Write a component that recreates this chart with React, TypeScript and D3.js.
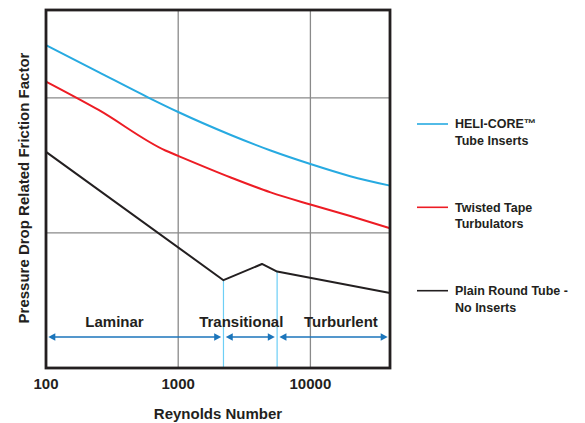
import {useEffect, useRef} from "react";
import * as d3 from "d3";

// Reynolds numbers sampled along each curve
const blueRe = [100, 250, 600, 1000, 2500, 5000, 10000, 20000, 40000];
const blueF = [2.39, 2.19, 2.0, 1.895, 1.725, 1.61, 1.51, 1.42, 1.35];

const redRe = [100, 250, 800, 1000, 2500, 5000, 10000, 20000, 40000];
const redF = [2.12, 1.91, 1.61, 1.57, 1.41, 1.30, 1.21, 1.125, 1.035];

const blackRe = [100, 2200, 4300, 5600, 40000];
const blackF = [1.60, 0.65, 0.77, 0.714, 0.555];

const xTicks = [100, 1000, 10000];
const yGrid = [1, 2];

// flow regimes
const regimeNames = ["Laminar", "Transitional", "Turburlent"];
const regimeFrom = [100, 2200, 5600];
const regimeTo = [2200, 5600, 40000];
const regimeLabelAt = [330, 3000, 17000];
const boundaryRe = [2200, 5600];

const legendNames = [["HELI-CORE™", "Tube Inserts"], ["Twisted Tape", "Turbulators"], ["Plain Round Tube -", "No Inserts"]];
const legendColors = ["#27aae1", "#ed1c24", "#231f20"];

export default function App() {
    const chartRef = useRef<SVGSVGElement>(null);

    useEffect(() => {
        document.body.style.margin = "0";
        if (!chartRef.current) return;

        const width = 585;
        const height = 423;
        const left = 46, right = 390, top = 10, bottom = 368;
        const font = "'Liberation Sans', Arial, sans-serif";
        const ink = "#231f20";

        const svg = d3.select(chartRef.current);
        svg.selectAll("*").remove();
        svg.attr("width", width).attr("height", height).attr("viewBox", [0, 0, width, height]);

        const x = d3.scaleLog().domain([100, 40000]).range([left, right]);
        const y = d3.scaleLinear().domain([0, 2.65]).range([bottom, top]);

        svg.append("rect").attr("width", width).attr("height", height).attr("fill", "white");

        // grid
        const grid = svg.append("g").attr("stroke", "#8a8a8a").attr("stroke-width", 1.3);
        grid.selectAll(".vx")
            .data(xTicks.slice(1))
            .join("line")
            .attr("x1", d => x(d)).attr("x2", d => x(d))
            .attr("y1", top).attr("y2", bottom);
        grid.selectAll(".hy")
            .data(yGrid)
            .join("line")
            .attr("x1", left).attr("x2", right)
            .attr("y1", d => y(d)).attr("y2", d => y(d));

        // regime boundaries
        svg.append("g")
            .selectAll("line")
            .data(boundaryRe)
            .join("line")
            .attr("stroke", "#6dcff6")
            .attr("stroke-width", 1.2)
            .attr("x1", d => x(d)).attr("x2", d => x(d))
            .attr("y1", d => y(blackF[blackRe.indexOf(d)]))
            .attr("y2", bottom);

        // curves
        const smooth = d3.line<number>()
            .x(d => x(d))
            .curve(d3.curveMonotoneX);

        svg.append("path")
            .datum(blueRe)
            .attr("fill", "none")
            .attr("stroke", legendColors[0])
            .attr("stroke-width", 2)
            .attr("d", smooth.y((d, i) => y(blueF[i])));

        svg.append("path")
            .datum(redRe)
            .attr("fill", "none")
            .attr("stroke", legendColors[1])
            .attr("stroke-width", 2)
            .attr("d", smooth.y((d, i) => y(redF[i])));

        svg.append("path")
            .datum(blackRe)
            .attr("fill", "none")
            .attr("stroke", legendColors[2])
            .attr("stroke-width", 2)
            .attr("stroke-linejoin", "round")
            .attr("d", d3.line<number>().x(d => x(d)).y((d, i) => y(blackF[i]))(blackRe));

        // regime arrows
        const arrowY = 337;
        const gap = 2.3;
        const headL = 7, headH = 3.7;
        const arrowColor = "#1b75bb";
        const arrows = svg.append("g");
        regimeNames.forEach((name, i) => {
            const x0 = x(regimeFrom[i]) + gap;
            const x1 = x(regimeTo[i]) - gap;
            arrows.append("line")
                .attr("x1", x0 + headL - 1).attr("x2", x1 - headL + 1)
                .attr("y1", arrowY).attr("y2", arrowY)
                .attr("stroke", arrowColor).attr("stroke-width", 1.5);
            arrows.append("path")
                .attr("d", `M${x0},${arrowY}L${x0 + headL},${arrowY - headH}L${x0 + headL},${arrowY + headH}Z`)
                .attr("fill", arrowColor);
            arrows.append("path")
                .attr("d", `M${x1},${arrowY}L${x1 - headL},${arrowY - headH}L${x1 - headL},${arrowY + headH}Z`)
                .attr("fill", arrowColor);
            arrows.append("text")
                .attr("x", x(regimeLabelAt[i]))
                .attr("y", 326.5)
                .attr("text-anchor", "middle")
                .attr("font-family", font)
                .attr("font-weight", "bold")
                .attr("font-size", 15)
                .attr("fill", ink)
                .text(name);
        });

        // frame
        svg.append("rect")
            .attr("x", left).attr("y", top)
            .attr("width", right - left).attr("height", bottom - top)
            .attr("fill", "none")
            .attr("stroke", ink)
            .attr("stroke-width", 2.8);

        // x tick labels
        svg.append("g")
            .selectAll("text")
            .data(xTicks)
            .join("text")
            .attr("x", d => x(d))
            .attr("y", 388.5)
            .attr("text-anchor", "middle")
            .attr("font-family", font)
            .attr("font-weight", "bold")
            .attr("font-size", 15)
            .attr("fill", ink)
            .text(d => String(d));

        svg.append("text")
            .attr("x", 218)
            .attr("y", 418.5)
            .attr("text-anchor", "middle")
            .attr("font-family", font)
            .attr("font-weight", "bold")
            .attr("font-size", 15)
            .attr("fill", ink)
            .text("Reynolds Number");

        svg.append("text")
            .attr("transform", "translate(29,188) rotate(-90)")
            .attr("text-anchor", "middle")
            .attr("font-family", font)
            .attr("font-weight", "bold")
            .attr("font-size", 15)
            .attr("fill", ink)
            .text("Pressure Drop Related Friction Factor");

        // legend
        const legendY = [124, 207.3, 290.7];
        const legend = svg.append("g");
        legendNames.forEach((lines, i) => {
            legend.append("line")
                .attr("x1", 417).attr("x2", 448)
                .attr("y1", legendY[i]).attr("y2", legendY[i])
                .attr("stroke", legendColors[i])
                .attr("stroke-width", 1.6);
            legend.append("text")
                .attr("x", 455)
                .attr("y", legendY[i] + 4.3)
                .attr("font-family", font)
                .attr("font-weight", "bold")
                .attr("font-size", 12.5)
                .attr("fill", ink)
                .selectAll("tspan")
                .data(lines)
                .join("tspan")
                .attr("x", 455)
                .attr("dy", (d, j) => j === 0 ? 0 : 16.5)
                .text(d => d);
        });
    }, []);

    return (
        <svg ref={chartRef}/>
    );
}
